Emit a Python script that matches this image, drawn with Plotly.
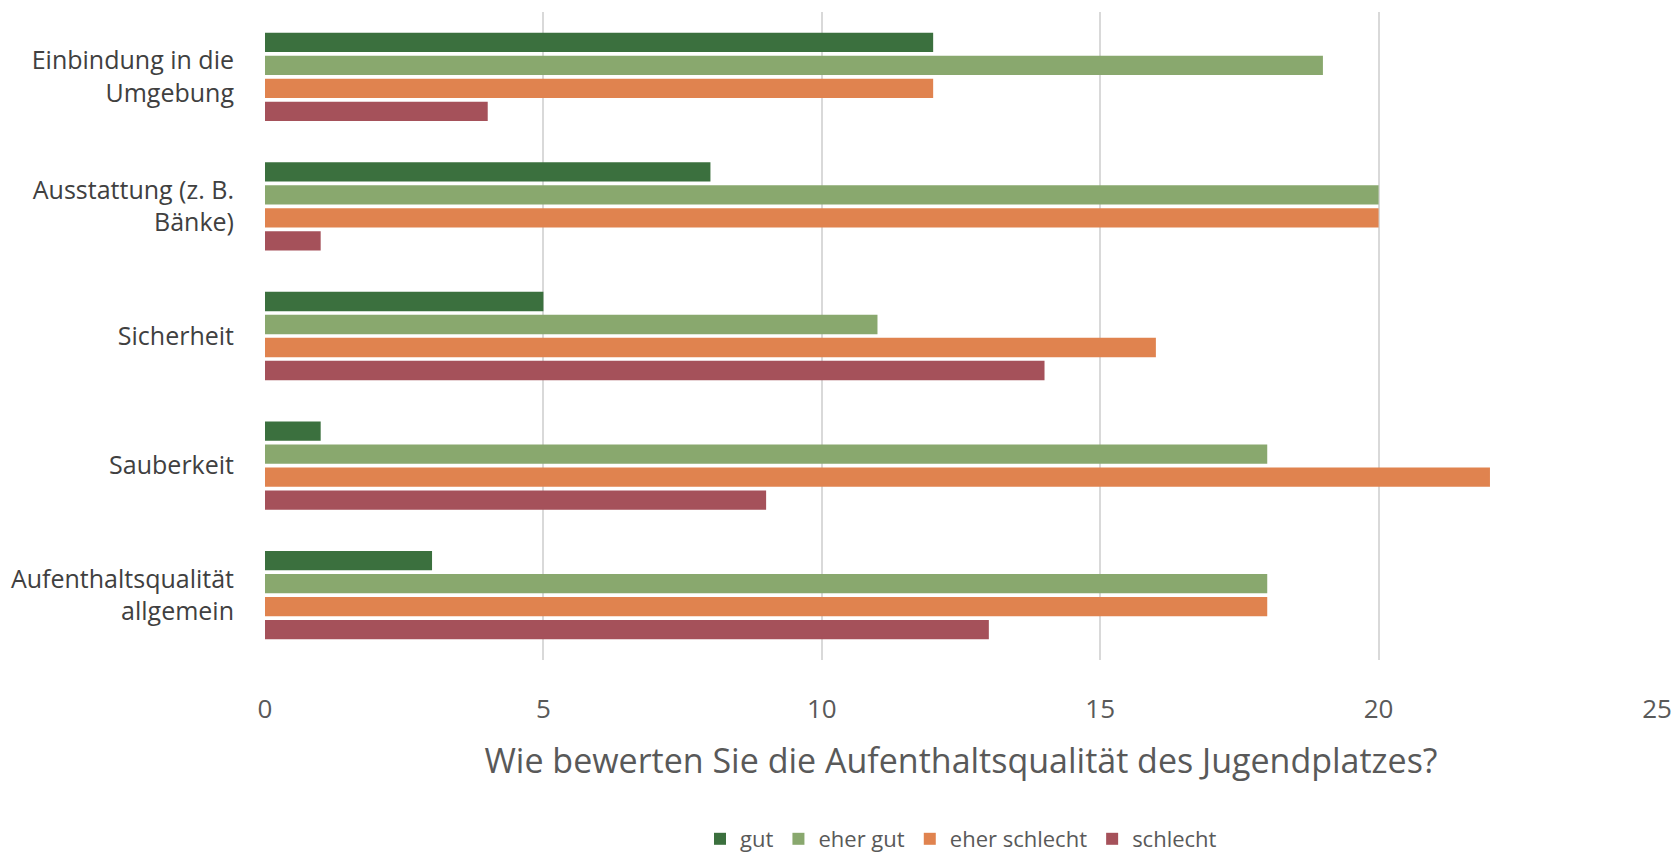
import plotly.graph_objects as go

categories = ["Einbindung in die<br>Umgebung", "Ausstattung (z. B.<br>Bänke)", "Sicherheit",
              "Sauberkeit", "Aufenthaltsqualität<br>allgemein"]
series_names = ["gut", "eher gut", "eher schlecht", "schlecht"]
gut = [12, 8, 5, 1, 3]
eher_gut = [19, 20, 11, 18, 18]
eher_schlecht = [12, 20, 16, 22, 18]
schlecht = [4, 1, 14, 9, 13]
colors = ["#3b703e", "#89a86e", "#e0834f", "#a5515a"]
x_ticks = [0, 5, 10, 15, 20, 25]
x_title = "Wie bewerten Sie die Aufenthaltsqualität des Jugendplatzes?"

fig = go.Figure()
for name, vals, col in zip(series_names, [gut, eher_gut, eher_schlecht, schlecht], colors):
    fig.add_trace(go.Bar(y=categories, x=vals, name=name, orientation="h",
                         marker=dict(color=col, line=dict(width=0))))

font_fam = "Open Sans, Noto Sans, sans-serif"
fig.update_layout(
    width=1676, height=852,
    margin=dict(l=265, r=19, t=12, b=192),
    plot_bgcolor="white", paper_bgcolor="white",
    barmode="group", bargap=0.29, bargroupgap=0.16,
    font=dict(family=font_fam, color="#595959"),
    legend=dict(orientation="h", x=0.5, xanchor="center", xref="paper",
                y=13 / 852, yanchor="middle", yref="container",
                font=dict(size=22, color="#595959"), traceorder="normal"),
    xaxis=dict(range=[0, 25], tickvals=x_ticks, showgrid=True, gridcolor="#d9d9d9",
               gridwidth=1.5, zeroline=False, showline=False, automargin=False,
               tickfont=dict(size=26, color="#595959"), ticklabelstandoff=31,
               title=dict(text=x_title, font=dict(size=34, color="#595959"), standoff=24)),
    yaxis=dict(autorange="reversed", showgrid=False, zeroline=False, showline=False,
               automargin=False,
               tickfont=dict(size=25, color="#404040"), ticklabelstandoff=30),
)
fig.write_html("out.html", config={"displayModeBar": False},
               post_script="document.body.style.margin='0';document.body.style.overflow='hidden';")
